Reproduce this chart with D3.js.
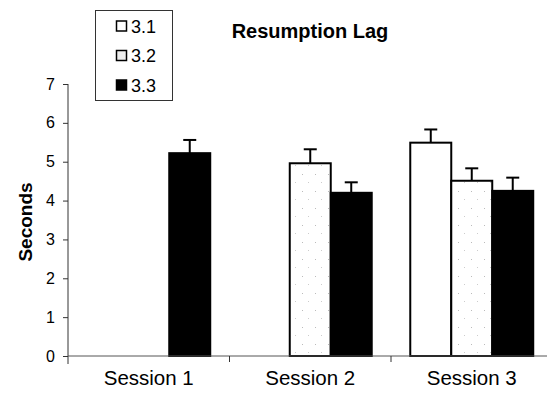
<!DOCTYPE html>
<html>
<head>
<meta charset="utf-8">
<script src="https://cdn.jsdelivr.net/npm/d3@7"></script>
<style>
  body { margin: 0; background: #fff; }
  svg { display: block; font-family: "Liberation Sans", Arial, sans-serif; }
</style>
</head>
<body>
<div id="chart"></div>
<script>
// data
var sessions = ["Session 1", "Session 2", "Session 3"];
var seriesNames = ["3.1", "3.2", "3.3"];
var values31 = [null, null, 5.49];
var values32 = [null, 4.96, 4.51];
var values33 = [5.22, 4.20, 4.25];
var errors31 = [null, null, 0.34];
var errors32 = [null, 0.36, 0.32];
var errors33 = [0.34, 0.27, 0.34];
var yTicks = [0, 1, 2, 3, 4, 5, 6, 7];

var width = 547, height = 401;
var svg = d3.select("#chart").append("svg")
    .attr("width", width)
    .attr("height", height);

// sparse stipple for the 3.2 bars
var defs = svg.append("defs");
var pat = defs.append("pattern")
    .attr("id", "stipple")
    .attr("patternUnits", "userSpaceOnUse")
    .attr("width", 13).attr("height", 17);
pat.append("rect").attr("width", 13).attr("height", 17).attr("fill", "#fff");
pat.append("rect").attr("x", 3).attr("y", 4).attr("width", 1).attr("height", 1).attr("fill", "#bbb");
pat.append("rect").attr("x", 9).attr("y", 12).attr("width", 1).attr("height", 1).attr("fill", "#ccc");

var styles = {
    "3.1": { fill: "#fff", stroke: "#000" },
    "3.2": { fill: "url(#stipple)", stroke: "#000" },
    "3.3": { fill: "#000", stroke: "#000" }
};

var rows = [];
sessions.forEach(function (s, i) {
    [values31, values32, values33].forEach(function (arr, j) {
        var errs = [errors31, errors32, errors33][j];
        if (arr[i] != null) {
            rows.push({ session: s, series: seriesNames[j], value: arr[i], err: errs[i] });
        }
    });
});

var plotLeft = 68, plotRight = 552.5, plotTop = 84, plotBottom = 356;

var x0 = d3.scaleBand().domain(sessions).range([plotLeft, plotRight]).padding(0);
var x1 = d3.scaleBand().domain(seriesNames).range([0, x0.bandwidth()])
    .paddingInner(0).paddingOuter(0.47);
var y = d3.scaleLinear().domain([0, 7]).range([plotBottom, plotTop]);

// bars
var bars = svg.append("g");
bars.selectAll("rect").data(rows).enter().append("rect")
    .attr("x", function (d) { return x0(d.session) + x1(d.series); })
    .attr("y", function (d) { return y(d.value); })
    .attr("width", x1.bandwidth())
    .attr("height", function (d) { return y(0) - y(d.value); })
    .attr("fill", function (d) { return styles[d.series].fill; })
    .attr("stroke", function (d) { return styles[d.series].stroke; })
    .attr("stroke-width", 2);

// error bars (upper only)
var eb = svg.append("g").attr("stroke", "#000").attr("stroke-width", 2);
rows.forEach(function (d) {
    var cx = x0(d.session) + x1(d.series) + x1.bandwidth() / 2;
    eb.append("line")
        .attr("x1", cx).attr("x2", cx)
        .attr("y1", y(d.value)).attr("y2", y(d.value + d.err));
    eb.append("line")
        .attr("x1", cx - 6.5).attr("x2", cx + 6.5)
        .attr("y1", y(d.value + d.err)).attr("y2", y(d.value + d.err));
});

// y axis
var yAxis = svg.append("g")
    .attr("transform", "translate(" + plotLeft + ",0)")
    .call(d3.axisLeft(y).tickValues(yTicks).tickSize(5).tickPadding(8).tickFormat(d3.format("d")));
yAxis.select(".domain").attr("stroke", "#333").attr("d", "M0," + plotTop + "V" + (plotBottom + 8));
yAxis.selectAll(".tick line").attr("stroke", "#333");
yAxis.selectAll(".tick text")
    .attr("font-size", 16)
    .attr("fill", "#000")
    .attr("font-family", "Liberation Sans, Arial, sans-serif");

// x axis
var xAxis = svg.append("g").attr("transform", "translate(0," + plotBottom + ")");
xAxis.append("line")
    .attr("x1", plotLeft).attr("x2", width)
    .attr("y1", 0).attr("y2", 0)
    .attr("stroke", "#555").attr("stroke-width", 1);
xAxis.selectAll("line.sep").data(sessions.slice(1)).enter().append("line")
    .attr("class", "sep")
    .attr("x1", function (d) { return x0(d); })
    .attr("x2", function (d) { return x0(d); })
    .attr("y1", 0).attr("y2", 6)
    .attr("stroke", "#333");
xAxis.selectAll("text").data(sessions).enter().append("text")
    .attr("x", function (d) { return x0(d) + x0.bandwidth() / 2; })
    .attr("y", 29)
    .attr("text-anchor", "middle")
    .attr("font-size", 20.5)
    .text(function (d) { return d; });

// y axis title
svg.append("text")
    .attr("transform", "translate(32,222) rotate(-90)")
    .attr("text-anchor", "middle")
    .attr("font-size", 19)
    .attr("font-weight", "bold")
    .text("Seconds");

// chart title
svg.append("text")
    .attr("x", 310).attr("y", 38)
    .attr("text-anchor", "middle")
    .attr("font-size", 20)
    .attr("font-weight", "bold")
    .text("Resumption Lag");

// legend
var legend = svg.append("g");
legend.append("rect")
    .attr("x", 95.5).attr("y", 10.5)
    .attr("width", 77).attr("height", 90)
    .attr("fill", "#fff")
    .attr("stroke", "#333");
var items = legend.selectAll("g.item").data(seriesNames).enter().append("g")
    .attr("class", "item")
    .attr("transform", function (d, i) { return "translate(116," + (26 + i * 29.5) + ")"; });
items.append("rect")
    .attr("x", 0.5).attr("y", -5)
    .attr("width", 10).attr("height", 10)
    .attr("fill", function (d) { return d == "3.2" ? "#eee" : styles[d].fill; })
    .attr("stroke", "#000")
    .attr("stroke-width", 1.5);
items.append("text")
    .attr("x", 15).attr("y", 6.5)
    .attr("font-size", 18)
    .text(function (d) { return d; });
</script>
</body>
</html>
